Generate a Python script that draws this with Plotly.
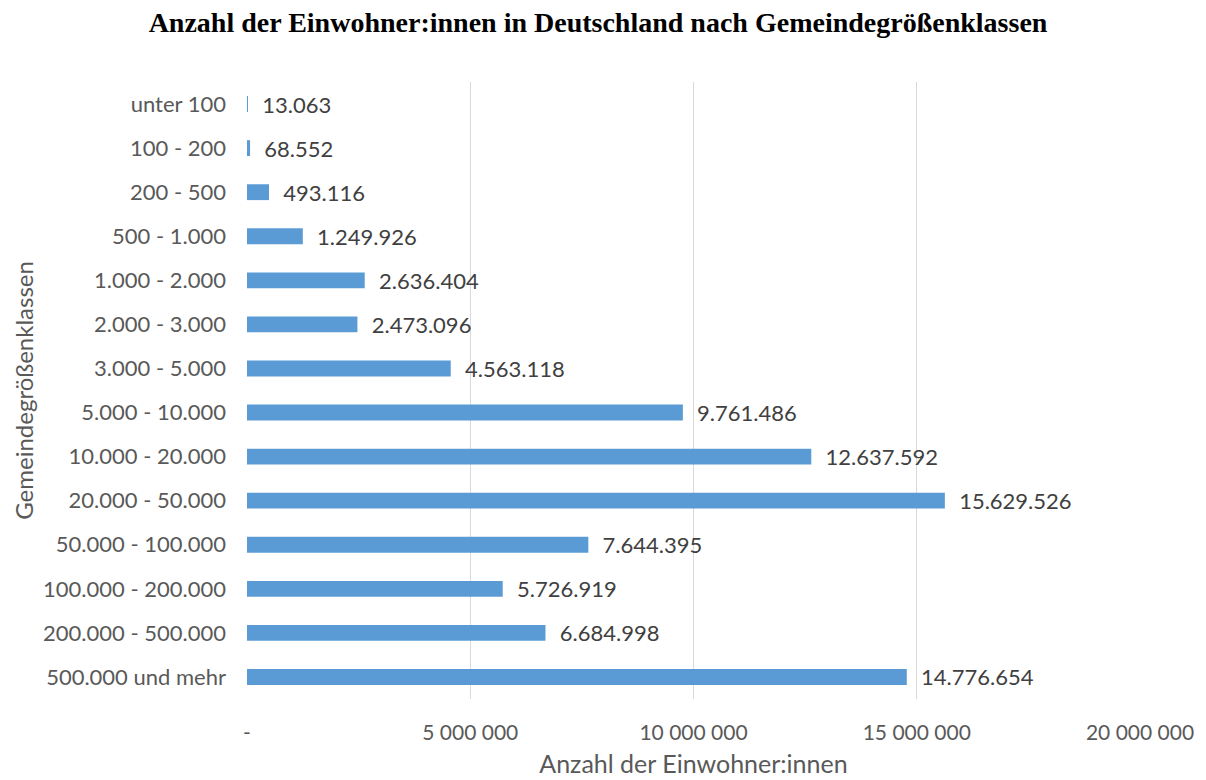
import plotly.graph_objects as go

categories = ["unter 100", "100 - 200", "200 - 500", "500 - 1.000", "1.000 - 2.000",
              "2.000 - 3.000", "3.000 - 5.000", "5.000 - 10.000", "10.000 - 20.000",
              "20.000 - 50.000", "50.000 - 100.000", "100.000 - 200.000",
              "200.000 - 500.000", "500.000 und mehr"]
values = [13063, 68552, 493116, 1249926, 2636404, 2473096, 4563118, 9761486,
          12637592, 15629526, 7644395, 5726919, 6684998, 14776654]
tick_vals = [0, 5000000, 10000000, 15000000, 20000000]
tick_text = ["-", "5 000 000", "10 000 000", "15 000 000", "20 000 000"]

labels = ["  " + f"{v:,}".replace(",", ".") for v in values]

font_family = "Lato, Open Sans, sans-serif"

fig = go.Figure(go.Bar(
    x=values, y=categories, orientation="h",
    marker=dict(color="#5B9BD5", line=dict(width=0)),
    width=0.36,
    text=labels, textposition="outside", cliponaxis=False, constraintext="none",
    textfont=dict(family=font_family, size=22, color="#404040"),
))

fig.update_layout(
    width=1198, height=772,
    paper_bgcolor="white", plot_bgcolor="white",
    margin=dict(l=239, r=66, t=74, b=81, autoexpand=False),
    title=dict(text="<b>Anzahl der Einwohner:innen in Deutschland nach Gemeindegrößenklassen</b>",
               x=0.4925, xanchor="center", y=0.982, yanchor="middle",
               font=dict(family="Liberation Serif, Times New Roman, serif", size=28, color="black")),
    showlegend=False,
)
fig.update_xaxes(
    range=[0, 20000000], tickvals=tick_vals, ticktext=tick_text,
    showgrid=True, gridcolor="#D9D9D9", gridwidth=1.3, zeroline=False,
    showline=False, ticks="", ticklabelstandoff=19, automargin=False,
    tickfont=dict(family=font_family, size=21, color="#595959"),
    title=dict(text="Anzahl der Einwohner:innen", standoff=12,
               font=dict(family=font_family, size=25, color="#595959")),
)
fig.update_yaxes(
    autorange="reversed", showgrid=False, zeroline=False, showline=False,
    ticks="", ticklabelstandoff=20, automargin=False,
    tickfont=dict(family=font_family, size=22, color="#595959"),
    title=dict(text="Gemeindegrößenklassen", standoff=2,
               font=dict(family=font_family, size=24, color="#595959")),
)

fig.write_html("out.html")
